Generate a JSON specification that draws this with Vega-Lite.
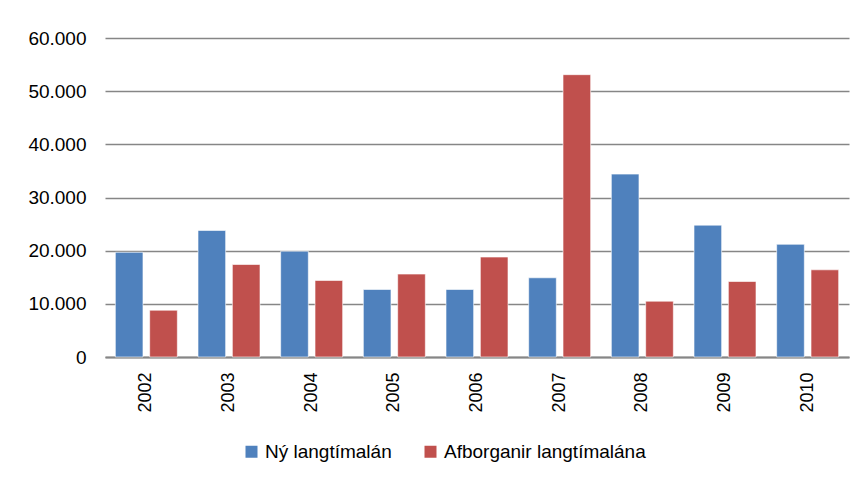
{
  "$schema": "https://vega.github.io/schema/vega-lite/v6.json",
  "autosize": "none",
  "width": 744,
  "height": 319,
  "padding": {"left": 105, "top": 38, "right": 18, "bottom": 127},
  "background": "#ffffff",
  "config": {
    "locale": {"number": {"decimal": ",", "thousands": ".", "grouping": [3], "currency": ["", " kr."]}},
    "font": "Liberation Sans",
    "view": {"stroke": null}
  },
  "data": {
    "values": [
      {"year": "2002", "series": "Ný langtímalán", "value": 19700},
      {"year": "2002", "series": "Afborganir langtímalána", "value": 8800},
      {"year": "2003", "series": "Ný langtímalán", "value": 23800},
      {"year": "2003", "series": "Afborganir langtímalána", "value": 17400},
      {"year": "2004", "series": "Ný langtímalán", "value": 19900},
      {"year": "2004", "series": "Afborganir langtímalána", "value": 14400},
      {"year": "2005", "series": "Ný langtímalán", "value": 12700},
      {"year": "2005", "series": "Afborganir langtímalána", "value": 15600},
      {"year": "2006", "series": "Ný langtímalán", "value": 12700},
      {"year": "2006", "series": "Afborganir langtímalána", "value": 18800},
      {"year": "2007", "series": "Ný langtímalán", "value": 14900},
      {"year": "2007", "series": "Afborganir langtímalána", "value": 53100},
      {"year": "2008", "series": "Ný langtímalán", "value": 34400},
      {"year": "2008", "series": "Afborganir langtímalána", "value": 10500},
      {"year": "2009", "series": "Ný langtímalán", "value": 24800},
      {"year": "2009", "series": "Afborganir langtímalána", "value": 14200},
      {"year": "2010", "series": "Ný langtímalán", "value": 21200},
      {"year": "2010", "series": "Afborganir langtímalána", "value": 16400}
    ]
  },
  "mark": {"type": "bar", "stroke": "#ffffff", "strokeWidth": 1, "strokeOpacity": 0.6},
  "encoding": {
    "x": {
      "field": "year", "type": "nominal", "title": null,
      "scale": {"paddingInner": 0.25, "paddingOuter": 0.125},
      "axis": {
        "labelAngle": -90, "labelAlign": "right", "labelBaseline": "middle",
        "labelFontSize": 18, "labelColor": "#000000", "labelPadding": 15,
        "ticks": false, "domainColor": "#868686", "domainWidth": 2, "grid": false
      }
    },
    "xOffset": {
      "field": "series", "type": "nominal",
      "sort": ["Ný langtímalán", "Afborganir langtímalána"],
      "scale": {"paddingInner": 0.195}
    },
    "y": {
      "field": "value", "type": "quantitative", "title": null,
      "scale": {"domain": [0, 60000], "nice": false},
      "axis": {
        "values": [0, 10000, 20000, 30000, 40000, 50000, 60000],
        "format": ",d", "labelFontSize": 19, "labelColor": "#000000",
        "labelPadding": 19, "ticks": false, "domain": false,
        "gridColor": "#868686", "gridWidth": 1.3
      }
    },
    "color": {
      "field": "series", "type": "nominal", "title": null,
      "sort": ["Ný langtímalán", "Afborganir langtímalána"],
      "scale": {"domain": ["Ný langtímalán", "Afborganir langtímalána"], "range": ["#4F81BD", "#C0504D"]},
      "legend": {
        "orient": "none", "direction": "horizontal",
        "legendX": 137, "legendY": 404,
        "symbolType": "square", "symbolSize": 144, "symbolStrokeWidth": 0,
        "labelFontSize": 19, "labelColor": "#000000", "labelOffset": 4,
        "labelLimit": 0, "columnPadding": 29
      }
    }
  }
}
